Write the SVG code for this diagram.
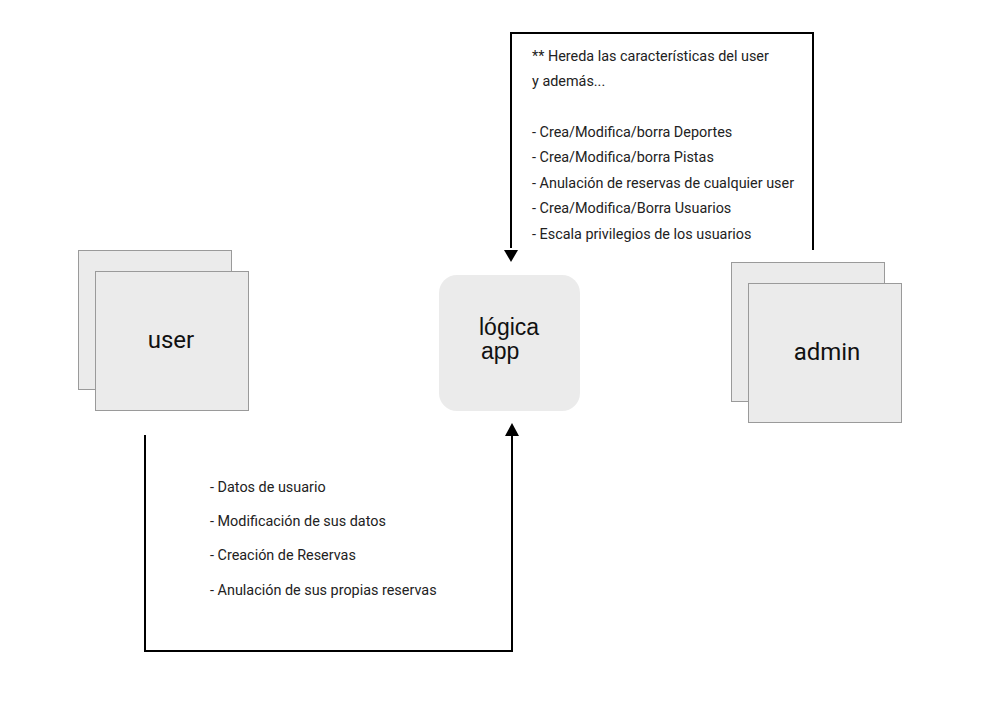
<svg xmlns="http://www.w3.org/2000/svg" width="1000" height="701" viewBox="0 0 1000 701">
<style>
.box{fill:#ebebeb;stroke:#9a9a9a;stroke-width:1}
.lbl{font-family:Roboto,"Liberation Sans",sans-serif;font-size:24px;fill:#111}
.lbl2{font-family:"Liberation Sans",Arial,sans-serif;font-size:23px;fill:#111}
.t{font-family:Roboto,"Liberation Sans",sans-serif;font-size:14.4px;fill:#222}
.ln{fill:none;stroke:#000;stroke-width:2}
</style>
<rect width="1000" height="701" fill="#fff"/>
<g id="user">
<rect class="box" x="78.5" y="250.5" width="153" height="139"/>
<rect class="box" x="95.5" y="271.5" width="153" height="139"/>
<text class="lbl" x="171" y="348" text-anchor="middle">user</text>
</g>
<g id="admin">
<rect class="box" x="731.5" y="262.5" width="153" height="139"/>
<rect class="box" x="748.5" y="283.5" width="153" height="139"/>
<text class="lbl" x="827" y="360" text-anchor="middle">admin</text>
</g>
<g id="logica">
<rect x="439" y="275" width="141" height="136" rx="18" ry="18" fill="#ebebeb"/>
<text class="lbl2" x="479" y="335">lógica</text>
<text class="lbl2" x="481" y="359">app</text>
</g>
<g id="connectors">
<path class="ln" d="M813,250 V33 H511 V248" />
<path d="M504,250 L518,250 L511,262 z" fill="#000"/>
<path class="ln" d="M145,435 V651 H512 V436" />
<path d="M505,436 L519,436 L512,423 z" fill="#000"/>
</g>
<g id="admin-notes">
<text class="t" x="532" y="61">** Hereda las características del user</text>
<text class="t" x="532" y="86">y además...</text>
<text class="t" x="532" y="137">- Crea/Modifica/borra Deportes</text>
<text class="t" x="532" y="162">- Crea/Modifica/borra Pistas</text>
<text class="t" x="532" y="188">- Anulación de reservas de cualquier user</text>
<text class="t" x="532" y="213">- Crea/Modifica/Borra Usuarios</text>
<text class="t" x="532" y="239">- Escala privilegios de los usuarios</text>
</g>
<g id="user-notes">
<text class="t" x="210" y="492">- Datos de usuario</text>
<text class="t" x="210" y="526">- Modificación de sus datos</text>
<text class="t" x="210" y="560">- Creación de Reservas</text>
<text class="t" x="210" y="595">- Anulación de sus propias reservas</text>
</g>
</svg>
